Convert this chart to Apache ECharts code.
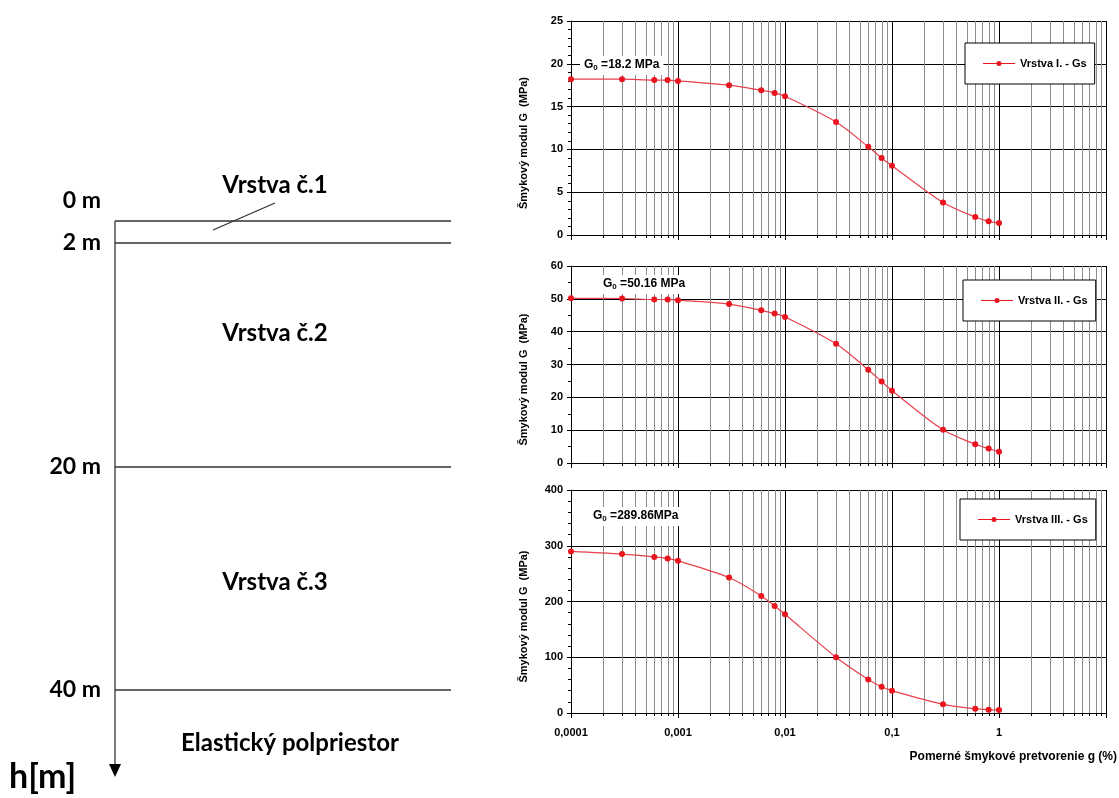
<!DOCTYPE html>
<html>
<head>
<meta charset="utf-8">
<script src="https://cdn.jsdelivr.net/npm/echarts@6/dist/echarts.min.js"></script>
<style>
  html, body { margin: 0; padding: 0; background: #fff; }
  #chart { width: 1119px; height: 798px; }
</style>
</head>
<body>
<div id="chart"></div>
<script>
// Relative shear strain (%) at which the shear modulus was evaluated
const strain = [0.0001, 0.0003, 0.0006, 0.0008, 0.001, 0.003, 0.006, 0.008, 0.01,
                0.03, 0.06, 0.08, 0.1, 0.3, 0.6, 0.8, 1];

// Shear modulus G (MPa) for each layer
const gLayer1 = [18.2, 18.2, 18.1, 18.1, 18.0, 17.5, 16.9, 16.6, 16.2,
                 13.2, 10.3, 9.0, 8.1, 3.8, 2.1, 1.6, 1.4];
const gLayer2 = [50.16, 50.1, 49.8, 49.8, 49.6, 48.4, 46.5, 45.5, 44.5,
                 36.3, 28.4, 24.8, 22.0, 10.1, 5.7, 4.4, 3.4];
const gLayer3 = [289.86, 285, 280, 277, 273, 243, 210, 192, 177,
                 100, 60, 47, 40, 15.6, 7.7, 6.0, 5.4];

// Initial (maximum) shear modulus per layer, MPa
const g0Values = ['18.2 MPa', '50.16 MPa', '289.86MPa'];
const seriesNames = ['Vrstva I. - Gs', 'Vrstva II. - Gs', 'Vrstva III. - Gs'];

// Y-axis ranges per panel
const yMax = [25, 60, 400];
const yStep = [5, 10, 100];
const yMinorSplits = [5, 2, 5];

// X-axis tick labels (decades)
const xTickLabels = { 0.0001: '0,0001', 0.001: '0,001', 0.01: '0,01', 0.1: '0,1', 1: '1' };

// Soil profile
const depthLabels = ['0 m', '2 m', '20 m', '40 m'];
const layerNames = ['Vrstva č.1', 'Vrstva č.2', 'Vrstva č.3'];
const halfSpaceName = 'Elastický polpriestor';
const depthAxisName = 'h[m]';

const yAxisTitle = 'Šmykový modul G  (MPa)';
const xAxisTitle = 'Pomerné šmykové pretvorenie g (%)';

// Minor log grid positions (2..9 within every decade)
const minorGrid = [];
for (let e = -4; e <= 0; e++) {
  for (let m = 2; m <= 9; m++) minorGrid.push(+(m * Math.pow(10, e)).toPrecision(3));
}

const chart = echarts.init(document.getElementById('chart'), null, { renderer: 'canvas' });

const FONT = '"Liberation Sans", Arial, sans-serif';
const NARROW = '"Liberation Sans Narrow", "Liberation Sans", Arial, sans-serif';
const PROFILE_FONT = 'Lato, "Open Sans", sans-serif';

const panels = [
  { top: 21, height: 214, data: gLayer1 },
  { top: 266, height: 197, data: gLayer2 },
  { top: 490, height: 223, data: gLayer3 }
];
const legendTops = [43, 280, 499];
const legendLefts = [965, 963, 960];
const noteLefts = [580, 599, 589];
const noteTops = [55, 274, 506];

const grids = panels.map(p => ({ left: 571, width: 535, top: p.top, height: p.height }));

const xAxes = panels.map((p, i) => ({
  type: 'log',
  logBase: 10,
  gridIndex: i,
  min: 0.0001,
  max: 10,
  axisLine: { show: true, onZero: false, lineStyle: { color: '#000', width: 1 } },
  axisTick: { show: true, length: 5, inside: false, lineStyle: { color: '#000' } },
  axisLabel: {
    show: i === 2,
    margin: 14,
    fontFamily: FONT, fontWeight: 'bold', fontSize: 11, color: '#000',
    formatter: v => xTickLabels[+v.toPrecision(3)] || ''
  },
  splitLine: { show: true, lineStyle: { color: '#000', width: 1 } }
}));

const yAxes = panels.map((p, i) => ({
  type: 'value',
  gridIndex: i,
  min: 0,
  max: yMax[i],
  interval: yStep[i],
  name: yAxisTitle,
  nameLocation: 'middle',
  nameRotate: 90,
  nameGap: 42,
  nameTextStyle: { fontFamily: FONT, fontWeight: 'bold', fontSize: 11, color: '#000', padding: [0, 30, 0, 0] },
  axisLine: { show: true, lineStyle: { color: '#000', width: 1 } },
  axisTick: { show: true, length: 4, lineStyle: { color: '#000' } },
  minorTick: { show: true, splitNumber: yMinorSplits[i], length: 3, lineStyle: { color: '#000' } },
  axisLabel: { fontFamily: FONT, fontWeight: 'bold', fontSize: 11, color: '#000', margin: 8 },
  splitLine: { show: true, lineStyle: { color: '#000', width: 1 } }
}));

// Gray minor vertical grid lines with short ticks under the x axis
const minorGridSeries = panels.map((p, i) => ({
  type: 'custom',
  name: 'minor grid ' + (i + 1),
  xAxisIndex: i,
  yAxisIndex: i,
  silent: true,
  z: 1,
  data: minorGrid.map(v => [v, 0]),
  renderItem: (params, api) => {
    const x = api.value(0);
    const top = api.coord([x, yMax[i]]);
    const bottom = api.coord([x, 0]);
    const px = Math.round(top[0]) + 0.5;
    return {
      type: 'group',
      children: [
        { type: 'line', shape: { x1: px, y1: top[1], x2: px, y2: bottom[1] }, style: { stroke: '#8c8c8c', lineWidth: 1 } },
        { type: 'line', shape: { x1: px, y1: bottom[1], x2: px, y2: bottom[1] + 3 }, style: { stroke: '#000', lineWidth: 1 } }
      ]
    };
  }
}));

const dataSeries = panels.map((p, i) => ({
  name: seriesNames[i],
  type: 'line',
  xAxisIndex: i,
  yAxisIndex: i,
  data: strain.map((s, k) => [s, p.data[k]]),
  smooth: 0.3,
  symbol: 'circle',
  symbolSize: 6,
  showSymbol: true,
  color: '#e8141e',
  lineStyle: { color: '#e8404c', width: 1.2 },
  itemStyle: { color: '#e8141e' },
  z: 5
}));

// Legend icon: thin line with a small filled marker in the middle
const legendIcon = 'path://M0,5.5H13.5V6.5H0Z M18.5,5.5H32V6.5H18.5Z M13.5,6a2.5,2.5 0 1,0 5,0a2.5,2.5 0 1,0 -5,0Z';

const legends = panels.map((p, i) => ({
  data: [{ name: seriesNames[i], icon: legendIcon }],
  left: legendLefts[i],
  top: legendTops[i],
  orient: 'horizontal',
  backgroundColor: '#fff',
  borderColor: '#000',
  borderWidth: 1,
  borderRadius: 0,
  padding: [15, 8, 15, 18],
  itemWidth: 32,
  itemHeight: 12,
  itemGap: 4,
  selectedMode: false,
  itemStyle: { color: '#e8141e' },
  textStyle: { fontFamily: NARROW, fontWeight: 'bold', fontSize: 11, color: '#000' }
}));

const notes = panels.map((p, i) => ({
  text: '{g|G}{s|0}{t| =' + g0Values[i] + '}',
  left: noteLefts[i],
  top: noteTops[i],
  padding: [3, 4, 3, 4],
  backgroundColor: '#fff',
  textStyle: {
    rich: {
      g: { fontFamily: FONT, fontWeight: 'bold', fontSize: 12, color: '#000' },
      s: { fontFamily: FONT, fontWeight: 'bold', fontSize: 8, color: '#000', padding: [6, 0, 0, 0] },
      t: { fontFamily: FONT, fontWeight: 'bold', fontSize: 12, color: '#000' }
    }
  }
}));

// Soil profile drawing on the left
const P = { axisX: 115, right: 451, lineY: [221, 243, 467, 690], labelY: [201, 243, 467, 690], nameY: [185, 333, 582] };
const lineStyle = { stroke: '#333', lineWidth: 1.3 };
const profile = [];
P.lineY.forEach(y => profile.push({ type: 'line', shape: { x1: P.axisX, y1: y, x2: P.right, y2: y }, style: lineStyle }));
profile.push({ type: 'line', shape: { x1: P.axisX, y1: P.lineY[0], x2: P.axisX, y2: 766 }, style: lineStyle });
profile.push({ type: 'polygon', shape: { points: [[109, 764], [121, 764], [115, 777]] }, style: { fill: '#000' } });
profile.push({ type: 'line', shape: { x1: 213, y1: 230, x2: 275, y2: 203 }, style: lineStyle });
depthLabels.forEach((t, i) => profile.push({
  type: 'text', x: 101, y: P.labelY[i],
  style: { text: t, fontFamily: PROFILE_FONT, fontWeight: 'bold', fontSize: 23, fill: '#000', align: 'right', verticalAlign: 'middle' }
}));
layerNames.forEach((t, i) => profile.push({
  type: 'text', x: 275, y: P.nameY[i],
  style: { text: t, fontFamily: PROFILE_FONT, fontWeight: 'bold', fontSize: 24, fill: '#000', align: 'center', verticalAlign: 'middle' }
}));
profile.push({
  type: 'text', x: 290, y: 743,
  style: { text: halfSpaceName, fontFamily: PROFILE_FONT, fontWeight: 'bold', fontSize: 24, fill: '#000', align: 'center', verticalAlign: 'middle' }
});
profile.push({
  type: 'text', x: 9, y: 777,
  style: { text: depthAxisName, fontFamily: PROFILE_FONT, fontWeight: 'bold', fontSize: 34, fill: '#000', align: 'left', verticalAlign: 'middle' }
});

const option = {
  backgroundColor: '#fff',
  animation: false,
  title: notes.concat([{
    text: xAxisTitle,
    right: 2,
    top: 751,
    padding: 0,
    textStyle: { fontFamily: NARROW, fontWeight: 'bold', fontSize: 12, color: '#000' }
  }]),
  legend: legends,
  grid: grids,
  xAxis: xAxes,
  yAxis: yAxes,
  series: minorGridSeries.concat(dataSeries),
  graphic: profile
};

chart.setOption(option);
</script>
</body>
</html>
